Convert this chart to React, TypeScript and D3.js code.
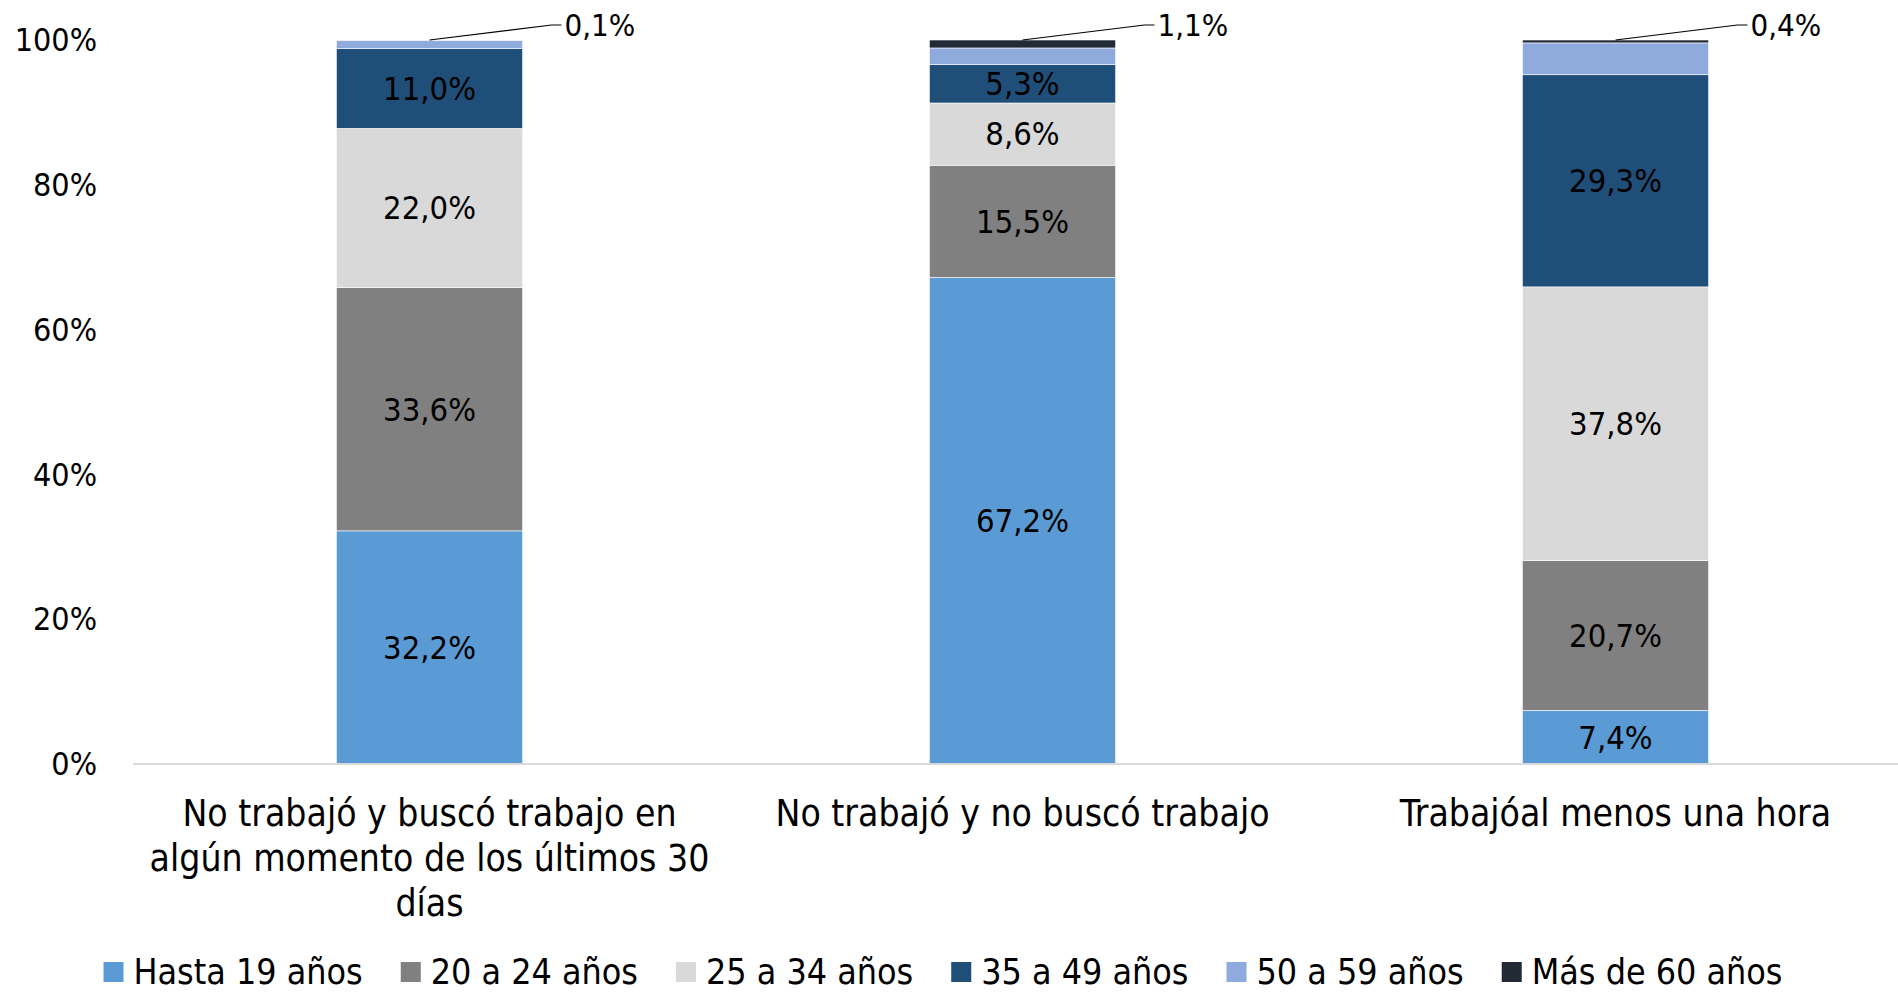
import React from "react";
import * as d3 from "d3";

const categories = [
  "No trabajó y buscó trabajo en\nalgún momento de los últimos 30\ndías",
  "No trabajó y no buscó trabajo",
  "Trabajóal menos una hora",
];
const seriesNames = ["Hasta 19 años", "20 a 24 años", "25 a 34 años", "35 a 49 años", "50 a 59 años", "Más de 60 años"];
const hasta19 = [32.2, 67.2, 7.4];
const a20_24 = [33.6, 15.5, 20.7];
const a25_34 = [22.0, 8.6, 37.8];
const a35_49 = [11.0, 5.3, 29.3];
const a50_59 = [1.1, 2.3, 4.4];
const mas60 = [0.1, 1.1, 0.4];
const yTicks = [0, 20, 40, 60, 80, 100];
const colors = ["#5B9BD5", "#808080", "#D9D9D9", "#1F4E79", "#8FAADC", "#222A35"];

const W = 1898;
const H = 996;
const FONT = "'DejaVu Sans Condensed', 'Liberation Sans Narrow', 'Roboto', sans-serif";
const LEGEND_FS = 35.5;

function measure(text: string, size: number) {
  try {
    const c = document.createElement("canvas").getContext("2d");
    if (c) {
      c.font = `${size}px ${FONT}`;
      return c.measureText(text).width;
    }
  } catch (e) {}
  return text.length * size * 0.5;
}

export default function App() {
  const seriesValues = [hasta19, a20_24, a25_34, a35_49, a50_59, mas60];
  const rows = categories.map((c, i) => {
    const r: any = { cat: c };
    seriesNames.forEach((s, j) => (r[s] = seriesValues[j][i]));
    return r;
  });
  const stacked = d3.stack<any>().keys(seriesNames)(rows);

  const x = d3.scaleBand<string>().domain(categories).range([133, 1912]).paddingInner(0.686).paddingOuter(0.343);
  const y = d3.scaleLinear().domain([0, 100]).range([764, 40]);
  const fmt = (v: number) => d3.format(".1f")(v).replace(".", ",") + "%";

  // legend layout: square 20, gap 10, text, spacing 40
  const widths = seriesNames.map((s) => 20 + 10 + measure(s, LEGEND_FS));
  const total = d3.sum(widths) + 38 * (seriesNames.length - 1);
  let acc = W / 2 - total / 2 - 6;
  const legendPos = widths.map((w) => {
    const p = acc;
    acc += w + 38;
    return p;
  });

  return (
    <svg width={W} height={H} style={{ display: "block", position: "absolute", left: 0, top: 0 }} fontFamily={FONT}>
      <rect width={W} height={H} fill="#fff" />
      {yTicks.map((t) => (
        <text key={t} x={97} y={y(t)} dy="0.35em" textAnchor="end" fontSize={32} fill="#000">
          {t}%
        </text>
      ))}
      {stacked.map((s, si) =>
        s.map((d, i) => (
          <rect
            key={si + "-" + i}
            x={x(categories[i])}
            width={x.bandwidth()}
            y={y(d[1])}
            height={y(d[0]) - y(d[1])}
            fill={colors[si]}
            stroke="#fff"
            strokeWidth={0.6}
          />
        ))
      )}
      <line x1={133} x2={W} y1={764} y2={764} stroke="#D9D9D9" strokeWidth={2} />
      {stacked.map((s, si) =>
        si < 4
          ? s.map((d, i) => (
              <text
                key={"l" + si + "-" + i}
                x={(x(categories[i]) as number) + x.bandwidth() / 2}
                y={(y(d[0]) + y(d[1])) / 2}
                dy="0.35em"
                textAnchor="middle"
                fontSize={32.5}
                fill="#000"
              >
                {fmt(d[1] - d[0])}
              </text>
            ))
          : null
      )}
      {stacked[5].map((d, i) => {
        const cx = (x(categories[i]) as number) + x.bandwidth() / 2;
        const ty = y(d[1]);
        const ex = cx + 122;
        const ey = 25;
        return (
          <g key={"c" + i}>
            <polyline points={`${cx},${ty} ${ex},${ey} ${ex + 10},${ey}`} fill="none" stroke="#000" strokeWidth={1.2} />
            <text x={ex + 13} y={ey} dy="0.35em" fontSize={31} fill="#000">
              {fmt(d[1] - d[0])}
            </text>
          </g>
        );
      })}
      {categories.map((c, i) => {
        const cx = (x(c) as number) + x.bandwidth() / 2;
        return c.split("\n").map((line, li) => (
          <text key={"x" + i + li} x={cx} y={813 + li * 45} dy="0.35em" textAnchor="middle" fontSize={37} fill="#000">
            {line}
          </text>
        ));
      })}
      {seriesNames.map((s, si) => (
        <g key={"lg" + si} transform={`translate(${legendPos[si]},972)`}>
          <rect x={0} y={-10} width={20} height={20} fill={colors[si]} />
          <text x={30} y={0} dy="0.35em" fontSize={LEGEND_FS} fill="#000">
            {s}
          </text>
        </g>
      ))}
    </svg>
  );
}
